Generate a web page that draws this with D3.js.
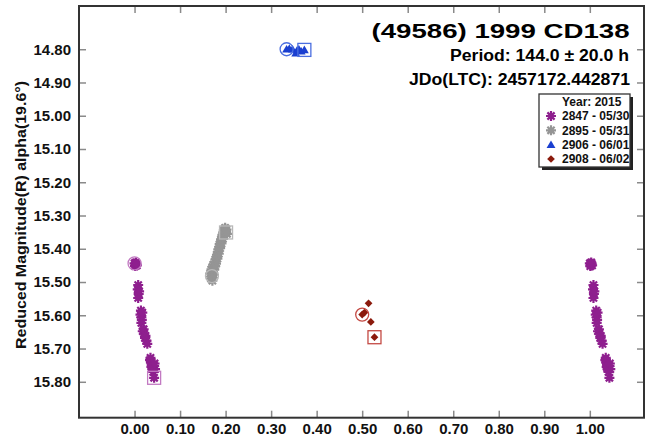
<!DOCTYPE html>
<html><head><meta charset="utf-8">
<script src="https://cdn.jsdelivr.net/npm/d3@7/dist/d3.min.js"></script>
<style>
html,body{margin:0;padding:0;background:#fff;}
svg{display:block;font-family:"Liberation Sans",Arial,sans-serif;font-weight:bold;}
</style></head><body>
<svg id="c" width="645" height="442"></svg>
<script>
// ---- data ----
const xTicks = [0,0.1,0.2,0.3,0.4,0.5,0.6,0.7,0.8,0.9,1.0];
const yTicks = [14.8,14.9,15.0,15.1,15.2,15.3,15.4,15.5,15.6,15.7,15.8];

const s2847Phase = [0.000,0.002,0.004,0.001,0.005,0.003,0.008,0.007,0.009,0.008,0.010,0.014,0.013,0.015,0.016,0.015,0.017,0.018,0.021,0.020,0.024,0.023,0.026,0.028,0.035,0.036,0.034,0.038,0.043,0.039,0.045,0.041,0.037,0.044,0.043];
const s2847Mag   = [15.444,15.448,15.445,15.452,15.450,15.441,15.509,15.522,15.536,15.548,15.528,15.586,15.598,15.606,15.614,15.623,15.592,15.648,15.655,15.642,15.662,15.668,15.676,15.686,15.728,15.740,15.735,15.750,15.752,15.760,15.762,15.770,15.755,15.745,15.788];

const s2895Phase = [0.170,0.168,0.171,0.166,0.172,0.169,0.174,0.171,0.175,0.173,0.177,0.176,0.179,0.178,0.180,0.182,0.181,0.183,0.185,0.184,0.186,0.188,0.187,0.189,0.191,0.190,0.192,0.194,0.193,0.195,0.197,0.196,0.198,0.200,0.199,0.202,0.203,0.201];
const s2895Mag   = [15.482,15.490,15.496,15.475,15.470,15.462,15.478,15.455,15.463,15.448,15.452,15.440,15.445,15.432,15.425,15.430,15.418,15.410,15.415,15.402,15.395,15.398,15.386,15.380,15.384,15.372,15.366,15.370,15.358,15.352,15.360,15.345,15.340,15.346,15.337,15.342,15.355,15.351];

const s2906Phase = [0.334,0.340,0.347,0.354,0.357,0.361,0.366,0.373];
const s2906Mag   = [14.800,14.798,14.800,14.812,14.803,14.800,14.806,14.802];

const s2908Phase = [0.500,0.505,0.514,0.519,0.527];
const s2908Mag   = [15.598,15.592,15.564,15.620,15.666];

const legendLabels = ["2847 - 05/30","2895 - 05/31","2906 - 06/01","2908 - 06/02"];
const legendTitle = "Year: 2015";
const titleText = "(49586) 1999 CD138";
const periodText = "Period: 144.0 \u00b1 20.0 h";
const jdText = "JDo(LTC): 2457172.442871";
const yLabel = "Reduced Magnitude(R) alpha(19.6\u00b0)";

// ---- chart ----
const svg = d3.select("#c");
const L = 79, R = 644, T = 6, B = 417.7;
const x = d3.scaleLinear().domain([-0.122, 1.119]).range([L, R]);
const y = d3.scaleLinear().domain([14.67, 15.908]).range([T, B]);

const series = [
  {ph:s2847Phase, mg:s2847Mag, type:"star", color:"#8e1f8e", mark:"#c27ac2"},
  {ph:s2895Phase, mg:s2895Mag, type:"star", color:"#959595", mark:"#b8b8b8"},
  {ph:s2906Phase, mg:s2906Mag, type:"tri",  color:"#1a3fd0", mark:"#4a6ee0"},
  {ph:s2908Phase, mg:s2908Mag, type:"dia",  color:"#8b1a0c", mark:"#c44a44"}
];

const starPath = "M-5,0H5M0,-5V5M-3.6,-3.6L3.6,3.6M-3.6,3.6L3.6,-3.6";
const triPath = d3.symbol().type(d3.symbolTriangle).size(34)();
const diaPath = d3.symbol().type(d3.symbolSquare).size(30)();

function drawMarker(g, type, color, px, py) {
  if (type === "star") {
    g.append("path").attr("d", starPath).attr("transform", `translate(${px},${py})`)
      .attr("fill","none").attr("stroke", color).attr("stroke-width", 2.2);
  } else if (type === "tri") {
    g.append("path").attr("d", triPath).attr("transform", `translate(${px},${py+0.8})`)
      .attr("fill", color);
  } else {
    g.append("path").attr("d", diaPath).attr("transform", `translate(${px},${py}) rotate(45)`)
      .attr("fill", color);
  }
}

// axes ticks (inward)
const tickStyle = g => {
  g.select(".domain").remove();
  g.selectAll(".tick line").attr("stroke", "#8a8a8a").attr("stroke-width", 1.5);
  g.selectAll(".tick text").attr("fill", "#111").style("font-size", "15px").style("font-weight","bold")
    .style("font-family", '"Liberation Sans",Arial,sans-serif');
};
svg.append("g").attr("transform", `translate(${L},0)`)
  .call(d3.axisLeft(y).tickValues(yTicks).tickSize(-7).tickPadding(8).tickFormat(d3.format(".2f")))
  .call(tickStyle);
svg.append("g").attr("transform", `translate(${R},0)`)
  .call(d3.axisRight(y).tickValues(yTicks).tickSize(-7).tickFormat(""))
  .call(tickStyle);
svg.append("g").attr("transform", `translate(0,${B})`)
  .call(d3.axisBottom(x).tickValues(xTicks).tickSize(-7).tickPadding(6).tickFormat(d3.format(".2f")))
  .call(tickStyle);
svg.append("g").attr("transform", `translate(0,${T})`)
  .call(d3.axisTop(x).tickValues(xTicks).tickSize(-7).tickFormat(""))
  .call(tickStyle);

// data
const pts = svg.append("g");
const [dMin, dMax] = x.domain();
series.forEach(s => {
  s.ph.forEach((p, i) => {
    [p, p + 1].forEach(pp => {
      if (pp >= dMin && pp <= dMax) drawMarker(pts, s.type, s.color, x(pp), y(s.mg[i]));
    });
  });
});
// first (circle) / last (square) markers
series.forEach(s => {
  const n = s.ph.length - 1;
  pts.append("circle").attr("cx", x(s.ph[0])).attr("cy", y(s.mg[0])).attr("r", 6.5)
    .attr("fill","none").attr("stroke", s.mark).attr("stroke-width", 1.3);
  pts.append("rect").attr("x", x(s.ph[n]) - 6.5).attr("y", y(s.mg[n]) - 6.5)
    .attr("width", 13).attr("height", 13)
    .attr("fill","none").attr("stroke", s.mark).attr("stroke-width", 1.3);
});

// frame
svg.append("rect").attr("x", L).attr("y", T).attr("width", R - L).attr("height", B - T)
  .attr("fill","none").attr("stroke","#333").attr("stroke-width", 2);

// titles
svg.append("text").attr("x", 629.5).attr("y", 38.3).attr("text-anchor","end")
  .attr("font-size", 21).attr("textLength", 258).attr("lengthAdjust","spacingAndGlyphs")
  .attr("fill","#000").text(titleText);
svg.append("text").attr("x", 629).attr("y", 60.7).attr("text-anchor","end")
  .attr("font-size", 16).attr("textLength", 179).attr("lengthAdjust","spacingAndGlyphs")
  .attr("fill","#000").text(periodText);
svg.append("text").attr("x", 630).attr("y", 84.6).attr("text-anchor","end")
  .attr("font-size", 16).attr("textLength", 221).attr("lengthAdjust","spacingAndGlyphs")
  .attr("fill","#000").text(jdText);

// y label
svg.append("text").attr("transform", "translate(26,215) rotate(-90)").attr("text-anchor","middle")
  .attr("font-size", 15).attr("textLength", 268).attr("lengthAdjust","spacingAndGlyphs")
  .attr("fill","#111").text(yLabel);

// legend
const lg = svg.append("g");
lg.append("rect").attr("x", 542).attr("y", 97).attr("width", 91).attr("height", 73).attr("fill", "#222");
lg.append("rect").attr("x", 539).attr("y", 94).attr("width", 91).attr("height", 73)
  .attr("fill", "#fff").attr("stroke", "#333").attr("stroke-width", 1.3);
lg.append("text").attr("x", 562).attr("y", 106).attr("font-size", 12).attr("fill","#111").text(legendTitle);
const rowY = [116, 130.3, 144.7, 159];
legendLabels.forEach((lab, i) => {
  drawMarker(lg, series[i].type, series[i].color, 551, rowY[i]);
  lg.append("text").attr("x", 562).attr("y", rowY[i] + 4.3).attr("font-size", 12).attr("fill","#111").text(lab);
});
</script>
</body></html>
